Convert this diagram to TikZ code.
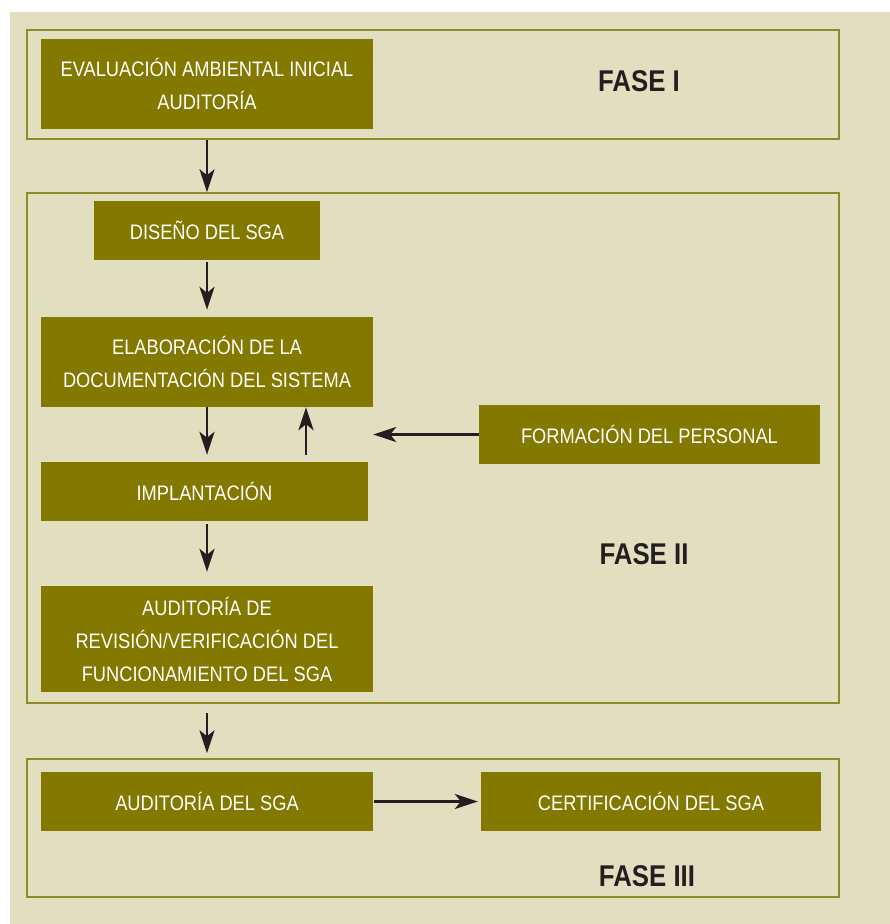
\documentclass[tikz,border=0pt]{standalone}
\usepackage{fontspec}
\setmainfont{Liberation Sans}[FakeStretch=0.87]
\newfontfamily\fasefont{Liberation Sans}[FakeStretch=0.86]
\usepackage{xcolor}
\usetikzlibrary{arrows.meta}
\definecolor{bg-beige}{HTML}{E2DFC1}
\definecolor{box-olive}{HTML}{837800}
\definecolor{frame-olive}{HTML}{8E8A2A}
\definecolor{arrow-dark}{HTML}{231F20}

\begin{document}
\begin{tikzpicture}[x=1pt, y=-1pt,
      every node/.style={font=\fontsize{21}{33}\selectfont, inner sep=0pt},
      stagebox/.style={fill=box-olive, text=white, align=center},
      faseframe/.style={draw=frame-olive, line width=1.5pt,
          minimum width=812pt},
      faselabel/.style={font=\fasefont\bfseries\fontsize{30}{34}\selectfont,
          text=arrow-dark},
      flow/.style={-{Stealth[length=23pt, width=15pt, inset=6pt]},
          line width=2.6pt, draw=arrow-dark}]
    \useasboundingbox (0,0) rectangle (890,924);
    \fill[bg-beige] (10,12) rectangle (890,924);
    % phase frames
    \node[faseframe, minimum height=109pt] (F1) at (433,84.5) {};
    \node[faseframe, minimum height=510pt] (F2) at (433,448) {};
    \node[faseframe, minimum height=138pt] (F3) at (433,828) {};
    \node[faselabel] (L1) at (639,81) {FASE I};
    \node[faselabel] (L2) at (644,554) {FASE II};
    \node[faselabel] (L3) at (647,876) {FASE III};
    % stages
    \node[stagebox, minimum width=332pt, minimum height=90pt] (EVA) at
          (207,84) {EVALUACIÓN AMBIENTAL INICIAL\\AUDITORÍA};
    \node[stagebox, minimum width=226pt, minimum height=59pt] (DIS) at
          (207,230.5) {DISEÑO DEL SGA};
    \node[stagebox, minimum width=332pt, minimum height=90pt] (ELA) at
          (207,362) {ELABORACIÓN DE LA\\DOCUMENTACIÓN DEL SISTEMA};
    \node[stagebox, minimum width=327pt, minimum height=59pt] (IMP) at
          (204.5,491.5) {IMPLANTACIÓN};
    \node[stagebox, minimum width=341pt, minimum height=59pt] (FOR) at
          (649.5,434.5) {FORMACIÓN DEL PERSONAL};
    \node[stagebox, minimum width=332pt, minimum height=106pt] (REV) at
          (207,639) {AUDITORÍA DE\\REVISIÓN/VERIFICACIÓN DEL\\FUNCIONAMIENTO DEL SGA};
    \node[stagebox, minimum width=332pt, minimum height=59pt] (AUD) at
          (207,801.5) {AUDITORÍA DEL SGA};
    \node[stagebox, minimum width=340pt, minimum height=59pt] (CER) at
          (651,801.5) {CERTIFICACIÓN DEL SGA};
    % connectors
    \draw[flow] (EVA |- F1.south) -- (EVA |- F2.north);
    \draw[flow, shorten <=2pt, shorten >=7pt] (DIS.south) -- (ELA.north);
    \draw[flow, shorten >=7pt] (ELA.south) -- (ELA.south |- IMP.north);
    \draw[flow, shorten <=7pt] ([xshift=99pt]ELA.south |- IMP.north)
          -- ([xshift=99pt]ELA.south);
    \draw[flow] (FOR.west) -- (ELA.east |- FOR.west);
    \draw[flow, shorten <=3pt, shorten >=14pt] (IMP.south -| REV.north)
          -- (REV.north);
    \draw[flow, shorten <=9pt, shorten >=5pt] (REV |- F2.south)
          -- (REV |- F3.north);
    \draw[flow, shorten <=1pt, shorten >=3pt] (AUD.east) -- (CER.west);
  \end{tikzpicture}
\end{document}
